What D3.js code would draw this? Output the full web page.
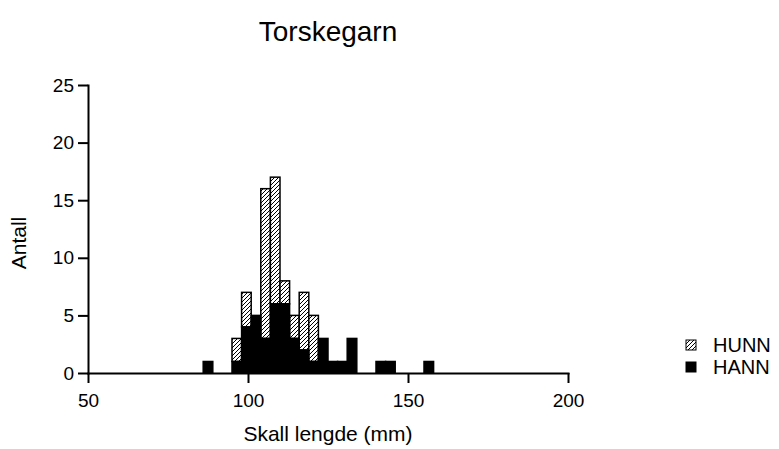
<!DOCTYPE html>
<html>
<head>
<meta charset="utf-8">
<script src="https://cdn.jsdelivr.net/npm/d3@7"></script>
<style>
  body { margin: 0; background: #fff; }
  svg { display: block; font-family: Arial, "Liberation Sans", sans-serif; }
  .axis path, .axis line { stroke: #000; stroke-width: 2; }
  .axis text { font-size: 19px; fill: #000; }
</style>
</head>
<body>
<svg width="779" height="449"></svg>
<script>
// bin lower edges (mm), bins are 3 mm wide
const binLower = [86, 89, 92, 95, 98, 101, 104, 107, 110, 113, 116, 119, 122, 125, 128, 131, 134, 137, 140, 143, 146, 149, 152, 155];
const binWidth = 3;
const hann = [1, 0, 0, 1, 4, 5, 3, 6, 6, 3, 2, 1, 3, 1, 1, 3, 0, 0, 1, 1, 0, 0, 0, 1];
const hunn = [0, 0, 0, 2, 3, 0, 13, 11, 2, 2, 5, 4, 0, 0, 0, 0, 0, 0, 0, 0, 0, 0, 0, 0];
const xTicks = [50, 100, 150, 200];
const yTicks = [0, 5, 10, 15, 20, 25];

const svg = d3.select('svg');

const x = d3.scaleLinear().domain([50, 200]).range([88, 568]);
const y = d3.scaleLinear().domain([0, 25]).range([373, 85]);

// hatch pattern for HUNN
const pat = svg.append('defs').append('pattern')
    .attr('id', 'hatch')
    .attr('patternUnits', 'userSpaceOnUse')
    .attr('width', 4)
    .attr('height', 4);
pat.append('rect').attr('width', 4).attr('height', 4).attr('fill', '#fff');
pat.append('path')
    .attr('d', 'M-1,1 L1,-1 M0,4 L4,0 M3,5 L5,3')
    .attr('stroke', '#000')
    .attr('stroke-width', 1);

const rows = binLower.map((b, i) => ({ b: b, hann: hann[i], hunn: hunn[i] }));

// HUNN stacked on top of HANN
svg.append('g').selectAll('rect')
    .data(rows.filter(d => d.hunn > 0))
    .enter().append('rect')
    .attr('x', d => x(d.b))
    .attr('width', d => x(d.b + binWidth) - x(d.b))
    .attr('y', d => y(d.hann + d.hunn))
    .attr('height', d => y(d.hann) - y(d.hann + d.hunn))
    .attr('fill', 'url(#hatch)')
    .attr('stroke', '#000')
    .attr('stroke-width', 1.5);

svg.append('g').selectAll('rect')
    .data(rows.filter(d => d.hann > 0))
    .enter().append('rect')
    .attr('x', d => x(d.b))
    .attr('width', d => x(d.b + binWidth) - x(d.b))
    .attr('y', d => y(d.hann))
    .attr('height', d => y(0) - y(d.hann))
    .attr('fill', '#000')
    .attr('stroke', '#000')
    .attr('stroke-width', 1.5);

svg.append('g')
    .attr('class', 'axis')
    .attr('transform', 'translate(0,373)')
    .call(d3.axisBottom(x).tickValues(xTicks).tickSize(10).tickSizeOuter(0).tickPadding(11));

svg.append('g')
    .attr('class', 'axis')
    .attr('transform', 'translate(88,0)')
    .call(d3.axisLeft(y).tickValues(yTicks).tickSize(10).tickSizeOuter(0).tickPadding(4));

svg.selectAll('.axis .domain').attr('stroke-linecap', 'square');

svg.append('text')
    .attr('x', 328)
    .attr('y', 41)
    .attr('text-anchor', 'middle')
    .attr('font-size', 28)
    .text('Torskegarn');

svg.append('text')
    .attr('x', 328)
    .attr('y', 441)
    .attr('text-anchor', 'middle')
    .attr('font-size', 21)
    .text('Skall lengde (mm)');

svg.append('text')
    .attr('transform', 'translate(26,243) rotate(-90)')
    .attr('text-anchor', 'middle')
    .attr('font-size', 21)
    .text('Antall');

// legend
const legend = [
    { name: 'HUNN', fill: 'url(#hatch)' },
    { name: 'HANN', fill: '#000' }
];
const lg = svg.append('g').selectAll('g')
    .data(legend)
    .enter().append('g')
    .attr('transform', (d, i) => `translate(686,${340 + i * 22})`);
lg.append('rect')
    .attr('width', 10).attr('height', 10)
    .attr('fill', d => d.fill)
    .attr('stroke', '#000')
    .attr('stroke-width', 1);
lg.append('text')
    .attr('x', 27)
    .attr('y', 12)
    .attr('font-size', 20)
    .text(d => d.name);
</script>
</body>
</html>
